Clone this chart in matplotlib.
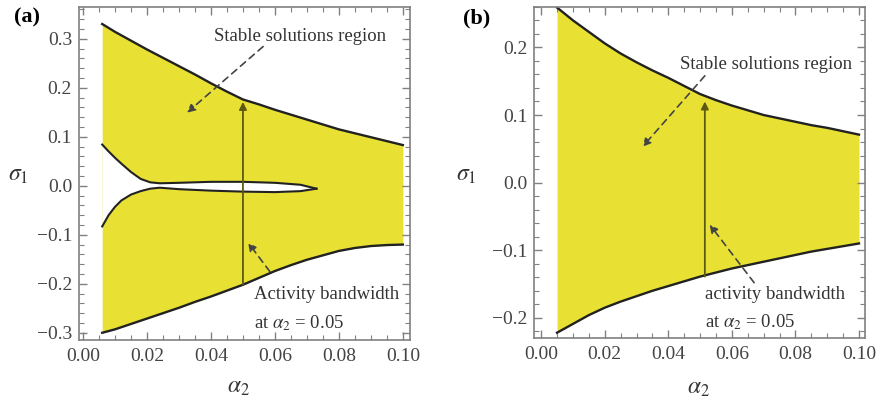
import numpy as np
import matplotlib
matplotlib.use('Agg')
import matplotlib.pyplot as plt
from matplotlib.ticker import MultipleLocator, FuncFormatter

plt.rcParams['font.family'] = ['Liberation Serif', 'DejaVu Serif']
plt.rcParams['mathtext.fontset'] = 'stix'

################################
# Data
################################
# (a) outer boundary of the stable region
a2_a = [0.006, 0.01, 0.015, 0.02, 0.025, 0.03, 0.035, 0.04, 0.045, 0.05, 0.055,
        0.06, 0.065, 0.07, 0.075, 0.08, 0.085, 0.09, 0.095, 0.10]
upper_a = [0.330, 0.314, 0.296, 0.278, 0.261, 0.244, 0.227, 0.209, 0.192, 0.176, 0.166,
           0.155, 0.145, 0.135, 0.125, 0.115, 0.107, 0.099, 0.091, 0.083]
lower_a = [-0.300, -0.293, -0.282, -0.271, -0.260, -0.249, -0.237, -0.226, -0.214, -0.202, -0.188,
           -0.174, -0.162, -0.151, -0.142, -0.133, -0.127, -0.123, -0.121, -0.120]

# (a) inner unstable loop
a2_loop = [0.006, 0.008, 0.01, 0.012, 0.015, 0.018, 0.021, 0.024, 0.03, 0.04, 0.05, 0.06, 0.068, 0.073]
loop_up = [0.084, 0.070, 0.057, 0.045, 0.028, 0.014, 0.007, 0.005, 0.006, 0.008, 0.008, 0.006, 0.002, -0.006]
loop_lo = [-0.083, -0.060, -0.043, -0.030, -0.018, -0.011, -0.006, -0.004, -0.007, -0.010, -0.012, -0.013, -0.011, -0.006]

# (b) boundary of the stable region
a2_b = [0.005, 0.01, 0.015, 0.02, 0.025, 0.03, 0.035, 0.04, 0.045, 0.05, 0.055,
        0.06, 0.065, 0.07, 0.075, 0.08, 0.085, 0.09, 0.095, 0.10]
upper_b = [0.259, 0.240, 0.223, 0.206, 0.191, 0.178, 0.166, 0.155, 0.143, 0.131, 0.122,
           0.114, 0.107, 0.100, 0.095, 0.090, 0.085, 0.081, 0.076, 0.071]
lower_b = [-0.222, -0.209, -0.196, -0.185, -0.176, -0.168, -0.160, -0.153, -0.146, -0.139, -0.133,
           -0.127, -0.122, -0.117, -0.112, -0.107, -0.102, -0.098, -0.094, -0.090]

# activity bandwidth arrows (a2, from, to)
band_a = (0.05, -0.202, 0.171)
band_b = (0.0515, -0.139, 0.120)

YELLOW = '#e8e133'
GRAY = '#808080'
TXT = '#333333'


def style(ax, xlim, ylim):
    ax.set_xlim(*xlim)
    ax.set_ylim(*ylim)
    ax.xaxis.set_major_locator(MultipleLocator(0.02))
    ax.xaxis.set_minor_locator(MultipleLocator(0.005))
    ax.yaxis.set_major_locator(MultipleLocator(0.1))
    ax.yaxis.set_minor_locator(MultipleLocator(0.02))
    ax.xaxis.set_major_formatter(FuncFormatter(lambda v, p: f'{v:.2f}'))
    ax.yaxis.set_major_formatter(
        FuncFormatter(lambda v, p: f'{round(v, 1) + 0.0:.1f}'.replace('-', '\u2212')))
    ax.tick_params(which='both', direction='in', top=True, right=True,
                   color=GRAY, labelcolor='#444444', labelsize=14)
    ax.tick_params(which='major', length=6, width=1.0)
    ax.tick_params(which='minor', length=3.5, width=0.8)
    ax.tick_params(axis='x', pad=6)
    ax.tick_params(axis='y', pad=5)
    for s in ax.spines.values():
        s.set_color(GRAY)
        s.set_linewidth(1.2)


def dashed(ax, start, end):
    ax.annotate('', xy=end, xytext=start,
                arrowprops=dict(arrowstyle='-|>', ls=(0, (4, 3)), color='#444444',
                                lw=1.2, mutation_scale=12, shrinkA=0, shrinkB=0))


def vert(ax, band):
    x, y0, y1 = band
    ax.annotate('', xy=(x, y1), xytext=(x, y0),
                arrowprops=dict(arrowstyle='-|>', color='#5c5a12', lw=1.3,
                                mutation_scale=11, shrinkA=0, shrinkB=0))


def labels(ax, ycoords, xcoords):
    ax.set_ylabel('$\\sigma_1$', rotation=0, fontsize=17, color=TXT)
    ax.yaxis.label.set_va('center')
    ax.yaxis.set_label_coords(*ycoords)
    ax.set_xlabel('$\\alpha_2$', fontsize=17, color=TXT)
    ax.xaxis.label.set_va('center')
    ax.xaxis.set_label_coords(*xcoords)


fig = plt.figure(figsize=(8.8, 4.03), dpi=100)
ax1 = fig.add_axes([0.0898, 0.156, 0.376, 0.827])
ax2 = fig.add_axes([0.607, 0.161, 0.376, 0.822])

################################
# (a)
################################
ax1.fill_between(a2_a, lower_a, upper_a, color=YELLOW, lw=0)
ax1.fill_between(a2_loop, loop_lo, loop_up, color='white', lw=0)
ax1.plot(a2_a, upper_a, color='#222222', lw=1.7)
ax1.plot(a2_a, lower_a, color='#222222', lw=1.7)
ax1.plot(a2_loop, loop_up, color='#222222', lw=1.5)
ax1.plot(a2_loop, loop_lo, color='#222222', lw=1.5)
vert(ax1, band_a)
style(ax1, (-0.00125, 0.1022), (-0.315, 0.365))

ax1.text(0.0678, 0.304, 'Stable solutions region', ha='center', va='center',
         fontsize=13.5, color=TXT)
dashed(ax1, (0.0563, 0.284), (0.0325, 0.149))
ax1.text(0.0535, -0.222, 'Activity bandwidth', ha='left', va='center',
         fontsize=13.5, color=TXT)
ax1.text(0.0535, -0.280, 'at $\\alpha_2$ = 0.05', ha='left', va='center',
         fontsize=13.5, color=TXT)
dashed(ax1, (0.0584, -0.175), (0.0516, -0.116))
labels(ax1, (-0.184, 0.495), (0.483, -0.141))

################################
# (b)
################################
ax2.fill_between(a2_b, lower_b, upper_b, color=YELLOW, lw=0)
ax2.plot(a2_b, upper_b, color='#222222', lw=1.7)
ax2.plot(a2_b, lower_b, color='#222222', lw=1.7)
vert(ax2, band_b)
style(ax2, (-0.0022, 0.1019), (-0.23, 0.26))

ax2.text(0.0707, 0.175, 'Stable solutions region', ha='center', va='center',
         fontsize=13.5, color=TXT)
dashed(ax2, (0.0515, 0.158), (0.0319, 0.053))
ax2.text(0.0515, -0.166, 'activity bandwidth', ha='left', va='center',
         fontsize=13.5, color=TXT)
ax2.text(0.0515, -0.206, 'at $\\alpha_2$ = 0.05', ha='left', va='center',
         fontsize=13.5, color=TXT)
dashed(ax2, (0.067, -0.148), (0.053, -0.062))
labels(ax2, (-0.205, 0.49), (0.495, -0.151))

fig.text(0.031, 0.957, '(a)', fontsize=16, fontweight='bold', ha='center', va='center')
fig.text(0.542, 0.955, '(b)', fontsize=16, fontweight='bold', ha='center', va='center')

fig.savefig('out.png', dpi=100)
